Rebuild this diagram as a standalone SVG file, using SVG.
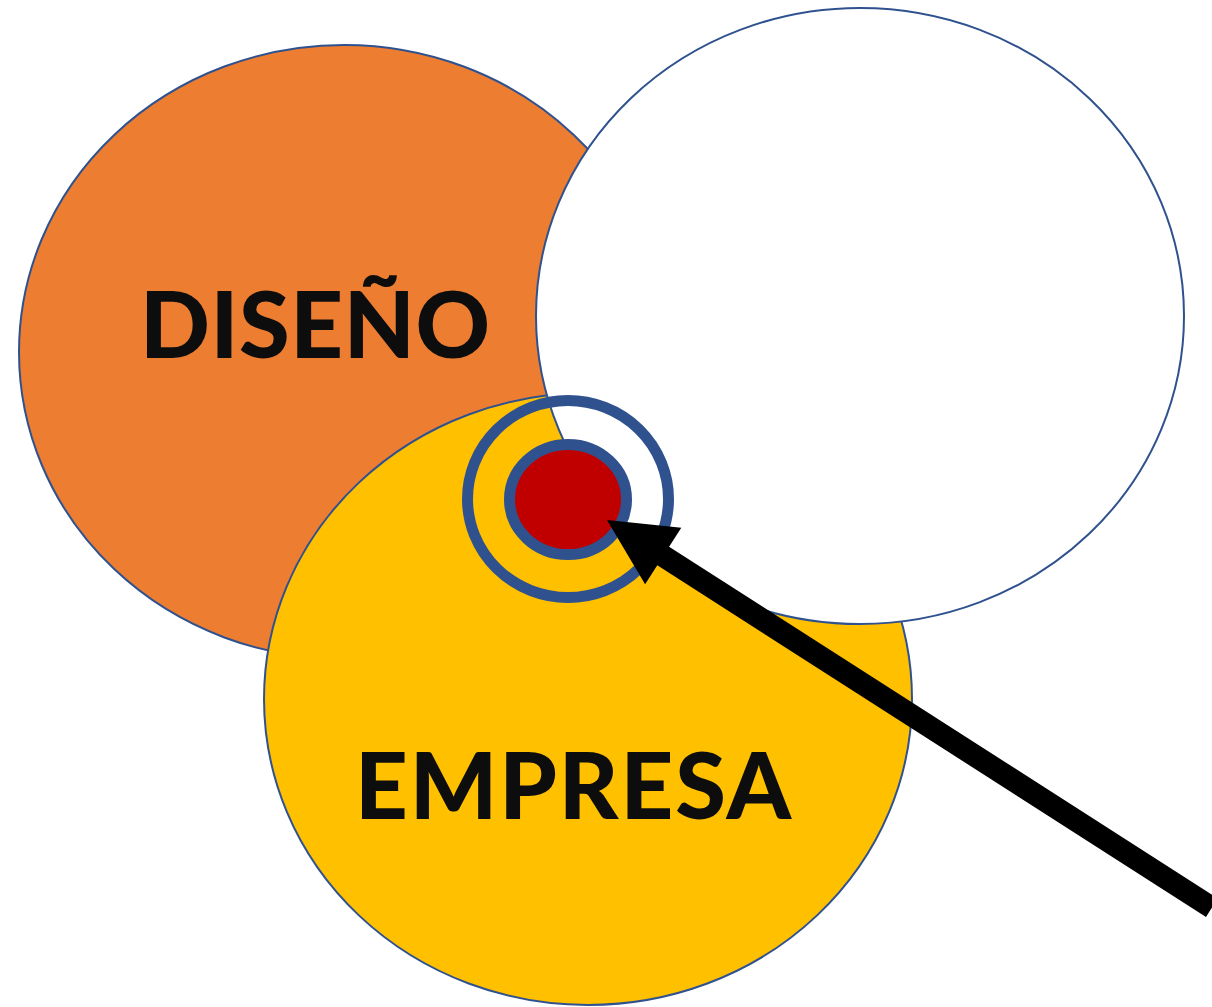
<svg xmlns="http://www.w3.org/2000/svg" width="1212" height="1007" viewBox="0 0 1212 1007">
<style>
.set{stroke:#2F528F;stroke-width:2}
.lbl{font-family:Lato,"Liberation Sans",Arial,sans-serif;font-weight:900;font-size:92px;fill:#0D0D0D}
.ring{fill:none;stroke:#2F528F;stroke-width:11}
</style>
<rect width="1212" height="1007" fill="#FFFFFF"/>
<g id="diseno">
<ellipse class="set" cx="344" cy="352" rx="325" ry="307" fill="#ED7D31"/>
<text class="lbl" x="140" y="358" textLength="350" lengthAdjust="spacing">DISEÑO</text>
</g>
<g id="empresa">
<ellipse class="set" cx="588" cy="699" rx="324" ry="306" fill="#FFC000"/>
<text class="lbl" x="355" y="819" textLength="436" lengthAdjust="spacing">EMPRESA</text>
</g>
<g id="tercero">
<ellipse class="set" cx="860" cy="316" rx="324" ry="308" fill="#FFFFFF"/>
</g>
<g id="objetivo">
<ellipse class="ring" cx="568" cy="499" rx="100.5" ry="98.5"/>
<ellipse cx="568" cy="499.5" rx="58.5" ry="55" fill="#C00000" stroke="#2F528F" stroke-width="11"/>
</g>
<g id="connectors">
<polygon points="607,520 681.3,527.7 669.1,546.7 1217.8,898.4 1206,917 657.3,565.3 645.1,584.3" fill="#000000"/>
</g>
</svg>
